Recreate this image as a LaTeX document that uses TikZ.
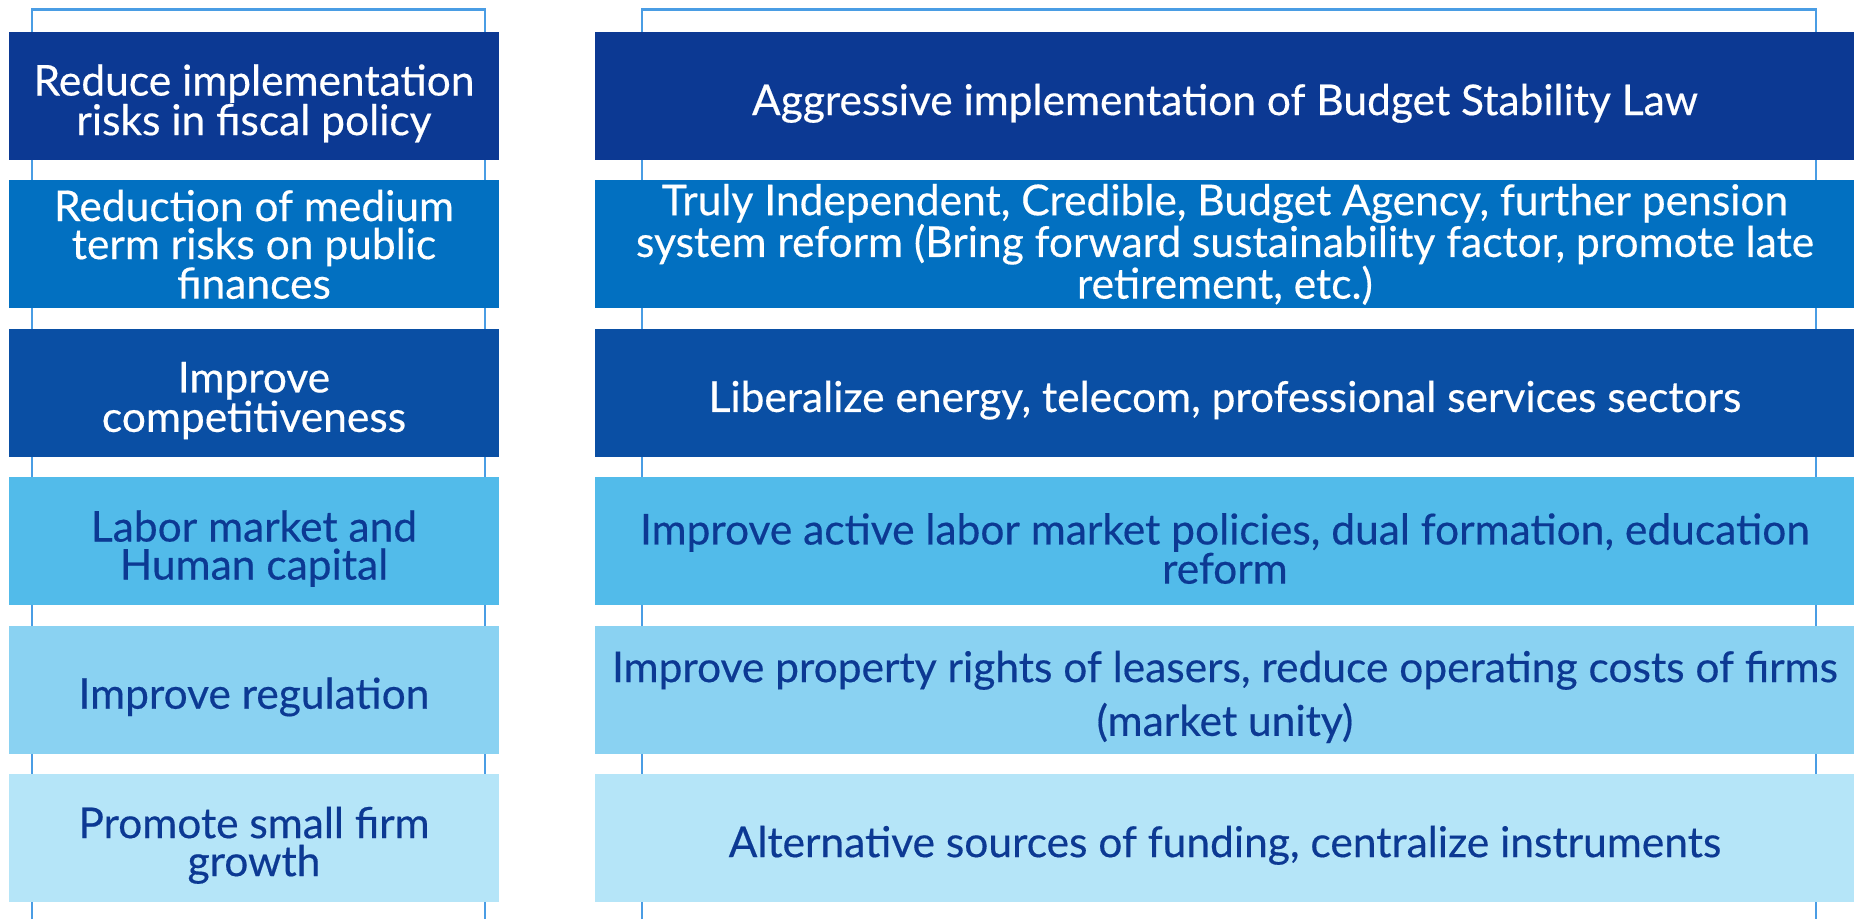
\documentclass[tikz,border=0pt]{standalone}
\usepackage{fontspec}
\setmainfont{Lato}[UprightFeatures={FakeBold=0.4}]
\usetikzlibrary{positioning}
\definecolor{Navy}{HTML}{0C3993}
\definecolor{Azure}{HTML}{0270C1}
\definecolor{Royal}{HTML}{0A4FA4}
\definecolor{Sky}{HTML}{52BBEA}
\definecolor{Pale}{HTML}{8AD2F2}
\definecolor{Ice}{HTML}{B5E5F8}
\definecolor{Frame}{HTML}{4A9DE4}
\newcommand\lift{\rule{0pt}{46pt}}

\begin{document}
\begin{tikzpicture}[x=1pt,y=1pt,node distance=20pt,
    l/.style={minimum width=490pt,minimum height=128pt,inner sep=0pt,align=center,font=\fontsize{42.5}{38}\selectfont},
    r/.style={l,minimum width=1259pt},
    dk/.style={text=white},
    lt/.style={text=Navy},
    fr/.style={draw=Frame,line width=2.5pt}]
    \useasboundingbox (0,0) rectangle (1854,-919);
    % open frames behind each column
    \draw[fr] (32,-919)--(32,-9.5)--(485,-9.5)--(485,-919);
    \draw[fr] (642,-919)--(642,-9.5)--(1816,-9.5)--(1816,-919);
    % goals
    \node[l,fill=Navy,dk] (g1) at (254,-96) {\lift Reduce implementation\\risks in fiscal policy};
    \node[l,fill=Azure,dk,below=of g1] (g2) {Reduction of medium\\term risks on public\\finances};
    \node[l,fill=Royal,dk,below=of g2] (g3) {\lift Improve\\competitiveness};
    \node[l,fill=Sky,lt,below=of g3] (g4) {\lift Labor market and\\Human capital};
    \node[l,fill=Pale,lt,below=of g4] (g5) {\lift Improve regulation};
    \node[l,fill=Ice,lt,below=of g5] (g6) {\lift Promote small firm\\growth};
    % measures
    \node[r,fill=Navy,dk,right=96pt of g1] (m1) {\lift Aggressive implementation of Budget Stability Law};
    \node[r,fill=Azure,dk,right=96pt of g2] (m2) {Truly Independent, Credible, Budget Agency, further pension\\system reform (Bring forward sustainability factor, promote late\\retirement, etc.)};
    \node[r,fill=Royal,dk,right=96pt of g3] (m3) {\lift Liberalize energy, telecom, professional services sectors};
    \node[r,fill=Sky,lt,right=96pt of g4] (m4) {\lift Improve active labor market policies, dual formation, education\\reform};
    \node[r,fill=Pale,lt,right=96pt of g5] (m5) {\lift Improve property rights of leasers, reduce operating costs of firms\\[12pt](market unity)};
    \node[r,fill=Ice,lt,right=96pt of g6] (m6) {\lift Alternative sources of funding, centralize instruments};
\end{tikzpicture}
\end{document}
